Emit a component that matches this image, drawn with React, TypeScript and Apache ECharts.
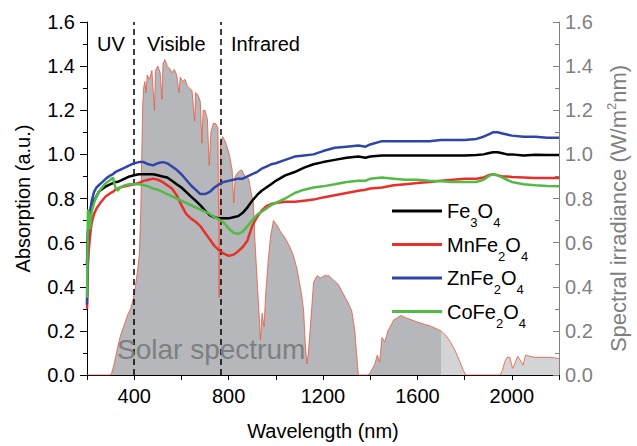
import React, { useEffect, useRef } from 'react';
import * as echarts from 'echarts';

const FONT = 'Liberation Sans, Arial, Helvetica, sans-serif';

// Absorption spectra (left axis)
const absWavelength = [200, 204, 208, 212, 216, 220, 230, 240, 250, 260, 280, 300, 310, 320, 330, 340, 360, 380, 400, 420, 440, 460, 480, 500, 520, 540, 560, 580, 600, 620, 640, 660, 680, 700, 720, 740, 760, 780, 800, 820, 840, 860, 880, 900, 920, 940, 960, 980, 1000, 1040, 1080, 1120, 1160, 1200, 1250, 1300, 1350, 1380, 1400, 1450, 1500, 1550, 1600, 1650, 1700, 1750, 1800, 1850, 1880, 1900, 1920, 1940, 1960, 1980, 2000, 2050, 2100, 2150, 2200];

const fe3o4 = [0.5, 0.65, 0.70, 0.72, 0.74, 0.76,
  0.79, 0.81, 0.83, 0.84,
  0.855, 0.865, 0.87, 0.875, 0.875, 0.88,
  0.89, 0.9, 0.905, 0.91, 0.91, 0.91, 0.91, 0.905,
  0.9, 0.895, 0.88, 0.865, 0.85, 0.83, 0.81, 0.79,
  0.77, 0.745, 0.725, 0.715, 0.71, 0.71, 0.71, 0.715,
  0.72, 0.735, 0.76, 0.79, 0.815, 0.835, 0.85, 0.865,
  0.88, 0.905, 0.92, 0.94, 0.955, 0.965,
  0.975, 0.985, 0.99, 0.985, 0.99,
  0.995, 0.995, 0.995, 0.995, 0.995, 0.995,
  0.995, 0.995, 0.997, 1.0, 1.005, 1.01,
  1.01, 1.005, 1.0, 1.0,
  0.995, 0.998, 0.997, 0.997];

const mnfe2o4 = [0.30, 0.5, 0.57, 0.62, 0.66, 0.69,
  0.73, 0.755, 0.77, 0.785,
  0.81, 0.825, 0.83, 0.84, 0.845, 0.85,
  0.855, 0.86, 0.865, 0.87, 0.88, 0.885, 0.89, 0.885,
  0.875, 0.86, 0.845, 0.815, 0.77, 0.73, 0.71, 0.695,
  0.675, 0.645, 0.615, 0.585, 0.565, 0.55, 0.54, 0.545,
  0.56, 0.58, 0.61, 0.675, 0.715, 0.745, 0.765, 0.775,
  0.78, 0.785, 0.785, 0.79, 0.795, 0.805,
  0.815, 0.825, 0.835, 0.84, 0.845,
  0.85, 0.86, 0.865, 0.87, 0.875, 0.88,
  0.885, 0.89, 0.89, 0.895, 0.905, 0.91,
  0.905, 0.9, 0.9, 0.897,
  0.895, 0.893, 0.893, 0.893];

const znfe2o4 = [0.32, 0.62, 0.72, 0.74, 0.76, 0.79,
  0.83, 0.85, 0.86, 0.87,
  0.89, 0.905, 0.91, 0.92, 0.925, 0.93,
  0.94, 0.95, 0.96, 0.965, 0.965, 0.955, 0.95, 0.96,
  0.965, 0.96, 0.945, 0.93, 0.91, 0.885, 0.86, 0.84,
  0.82, 0.82, 0.83, 0.85, 0.865, 0.875, 0.88, 0.885,
  0.89, 0.89, 0.9, 0.91, 0.92, 0.935, 0.945, 0.955,
  0.96, 0.975, 0.99, 0.995, 1.0, 1.015,
  1.03, 1.035, 1.04, 1.035, 1.045,
  1.06, 1.06, 1.06, 1.06, 1.06, 1.065,
  1.065, 1.065, 1.07, 1.08, 1.09, 1.10,
  1.10, 1.095, 1.09, 1.085,
  1.08, 1.08, 1.075, 1.075];

const cofe2o4 = [0.35, 0.75, 0.73, 0.66, 0.70, 0.74,
  0.78, 0.81, 0.83, 0.845,
  0.87, 0.885, 0.895, 0.85, 0.835, 0.85,
  0.86, 0.865, 0.865, 0.865, 0.86, 0.855, 0.845, 0.84,
  0.83, 0.82, 0.81, 0.80, 0.79, 0.78, 0.77, 0.76,
  0.75, 0.74, 0.73, 0.715, 0.705, 0.69, 0.665, 0.645,
  0.64, 0.65, 0.675, 0.70, 0.725, 0.74, 0.755, 0.77,
  0.78, 0.80, 0.825, 0.84, 0.85, 0.855,
  0.865, 0.875, 0.88, 0.88, 0.89,
  0.895, 0.89, 0.885, 0.885, 0.88, 0.878,
  0.875, 0.875, 0.875, 0.885, 0.9, 0.91,
  0.905, 0.895, 0.885, 0.875,
  0.865, 0.86, 0.857, 0.855];

// Solar spectrum (right axis)
const solarWavelength = [200, 300, 305, 315, 325, 335, 345, 355, 365, 375, 385, 395, 405, 415, 422, 428, 432, 436, 440, 445, 450, 455, 465, 475, 486, 490, 500, 510, 518, 522, 530, 540, 550, 560, 570, 580, 590, 595, 605, 615, 625, 635, 645, 656, 660, 670, 680, 687, 692, 700, 710, 718, 725, 735, 745, 755, 760, 765, 775, 785, 795, 805, 815, 822, 828, 840, 855, 870, 885, 895, 905, 912, 920, 928, 935, 942, 950, 958, 968, 978, 990, 1005, 1020, 1040, 1060, 1075, 1090, 1100, 1110, 1118, 1125, 1132, 1138, 1145, 1152, 1160, 1175, 1190, 1205, 1225, 1245, 1265, 1280, 1295, 1310, 1322, 1335, 1342, 1350, 1390, 1400, 1410, 1420, 1430, 1440, 1450, 1462, 1475, 1490, 1500, 1515, 1530, 1550, 1575, 1600, 1630, 1660, 1700, 1720, 1740, 1760, 1780, 1795, 1805, 1950, 1960, 1970, 1980, 1992, 2003, 2012, 2025, 2040, 2048, 2058, 2075, 2100, 2130, 2160, 2200];

const solarIrradiance = [0, 0, 0.01, 0.05, 0.1, 0.15, 0.19, 0.22, 0.25, 0.28, 0.3, 0.34, 0.4, 0.48, 0.55, 0.75, 1.0, 1.22, 1.3, 1.33, 1.28, 1.36, 1.34, 1.38, 1.2, 1.38, 1.40, 1.37, 1.25, 1.41, 1.43, 1.40, 1.39, 1.37, 1.385, 1.36, 1.28, 1.35, 1.33, 1.34, 1.31, 1.30, 1.29, 1.15, 1.28, 1.27, 1.24, 1.05, 1.2, 1.2, 1.16, 0.95, 1.1, 1.14, 1.14, 1.12, 0.35, 1.05, 1.08, 1.06, 1.03, 0.99, 0.93, 0.78, 0.9, 0.92, 0.93, 0.9, 0.89, 0.83, 0.78, 0.6, 0.45, 0.3, 0.16, 0.28, 0.22, 0.38, 0.52, 0.63, 0.70, 0.68, 0.65, 0.62, 0.58, 0.54, 0.48, 0.42, 0.36, 0.29, 0.14, 0.05, 0.1, 0.2, 0.3, 0.42, 0.45, 0.44, 0.45, 0.45, 0.43, 0.41, 0.38, 0.35, 0.32, 0.29, 0.2, 0.1, 0, 0, 0.01, 0.03, 0.05, 0.09, 0.06, 0.17, 0.15, 0.2, 0.23, 0.25, 0.26, 0.27, 0.26, 0.25, 0.24, 0.23, 0.22, 0.2, 0.18, 0.15, 0.11, 0.06, 0.02, 0, 0, 0.02, 0.06, 0.08, 0.08, 0.03, 0.05, 0.085, 0.06, 0.045, 0.09, 0.085, 0.08, 0.08, 0.08, 0.075];

const solarSplit = 1700;
const regionBoundaries = [400, 765];
const regionLabels = ['UV', 'Visible', 'Infrared'];

const seriesNames = ['Fe3O4', 'MnFe2O4', 'ZnFe2O4', 'CoFe2O4'];
const seriesColors = ['#000000', '#e8302b', '#3045a8', '#52bb45'];
const seriesValues = [fe3o4, mnfe2o4, znfe2o4, cofe2o4];
const legendLabels: Record<string, string> = {
  Fe3O4: '{n|Fe}{s|3}{n|O}{s|4}',
  MnFe2O4: '{n|MnFe}{s|2}{n|O}{s|4}',
  ZnFe2O4: '{n|ZnFe}{s|2}{n|O}{s|4}',
  CoFe2O4: '{n|CoFe}{s|2}{n|O}{s|4}',
};

export default function App() {
  const ref = useRef<HTMLDivElement>(null);
  useEffect(() => {
    document.body.style.margin = '0';
    const chart = echarts.init(ref.current!, null, { renderer: 'svg' });

    const solarPairs = solarWavelength.map((w, i) => [w, solarIrradiance[i]]);
    const solarDark = solarPairs.filter((p) => p[0] <= solarSplit);
    const solarLight = solarPairs.filter((p) => p[0] >= solarSplit);

    const absSeries = seriesNames.map((name, k) => ({
      name,
      type: 'line',
      xAxisIndex: 0,
      yAxisIndex: 0,
      data: absWavelength.map((w, i) => [w, seriesValues[k][i]]),
      symbol: 'none',
      showSymbol: false,
      color: seriesColors[k],
      lineStyle: { color: seriesColors[k], width: 2.5 },
      z: 5,
      silent: true,
    }));

    const option: any = {
      animation: false,
      textStyle: { fontFamily: FONT },
      grid: { left: 87, right: 70, top: 22, bottom: 69, containLabel: false },
      legend: {
        data: seriesNames,
        orient: 'vertical',
        left: 392,
        top: 201,
        padding: 0,
        itemWidth: 50,
        itemHeight: 3,
        itemGap: 5.5,
        icon: 'rect',
        selectedMode: false,
        formatter: (name: string) => legendLabels[name],
        textStyle: {
          fontFamily: FONT,
          color: '#000',
          rich: {
            n: { fontSize: 20, lineHeight: 36, color: '#000', fontFamily: FONT },
            s: { fontSize: 13, lineHeight: 13, verticalAlign: 'bottom', color: '#000', fontFamily: FONT },
          },
        },
      },
      xAxis: [
        {
          type: 'value',
          position: 'bottom',
          min: 200,
          max: 2200,
          interval: 200,
          splitLine: { show: false },
          axisLine: { show: true, lineStyle: { color: '#000', width: 1 } },
          axisTick: { show: true, length: 5, lineStyle: { color: '#000', width: 1 } },
          axisLabel: {
            formatter: (v: number) => (v % 400 === 0 ? String(v) : ''),
            fontSize: 20,
            color: '#000',
            margin: 11,
            fontFamily: FONT,
          },
          name: 'Wavelength (nm)',
          nameLocation: 'middle',
          nameGap: 46,
          nameTextStyle: { fontSize: 20, color: '#000', fontFamily: FONT },
        },
        {
          type: 'value',
          position: 'top',
          min: 200,
          max: 2200,
          interval: 200,
          splitLine: { show: false },
          axisLine: { show: true, lineStyle: { color: '#000', width: 1 } },
          axisTick: { show: false },
          axisLabel: { show: false },
        },
      ],
      yAxis: [
        {
          type: 'value',
          position: 'left',
          min: 0,
          max: 1.6,
          interval: 0.2,
          splitLine: { show: false },
          axisLine: { show: true, lineStyle: { color: '#000', width: 1 } },
          axisTick: { show: true, length: 7, lineStyle: { color: '#000', width: 1 } },
          minorTick: { show: true, splitNumber: 2, length: 4, lineStyle: { color: '#000', width: 1 } },
          axisLabel: {
            formatter: (v: number) => v.toFixed(1),
            fontSize: 20,
            color: '#000',
            margin: 12,
            fontFamily: FONT,
          },
          name: 'Absorption (a.u.)',
          nameLocation: 'middle',
          nameGap: 54,
          nameTextStyle: { fontSize: 20, color: '#000', fontFamily: FONT },
        },
        {
          type: 'value',
          position: 'right',
          min: 0,
          max: 1.6,
          interval: 0.2,
          splitLine: { show: false },
          axisLine: { show: true, lineStyle: { color: '#808080', width: 1 } },
          axisTick: { show: true, inside: true, length: 6, lineStyle: { color: '#808080', width: 1 } },
          minorTick: { show: true, splitNumber: 2, length: 4, lineStyle: { color: '#808080', width: 1 } },
          axisLabel: {
            formatter: (v: number) => v.toFixed(1),
            fontSize: 20,
            color: '#7f7f7f',
            margin: 6,
            fontFamily: FONT,
          },
          name: '{n|Spectral irradiance (W/m}{s|2}{n|nm)}',
          nameLocation: 'middle',
          nameGap: 46,
          nameTextStyle: {
            color: '#7f7f7f',
            fontFamily: FONT,
            padding: [0, 20, 0, 0],
            rich: {
              n: { fontSize: 22, lineHeight: 26, color: '#7f7f7f', fontFamily: FONT },
              s: { fontSize: 13, lineHeight: 13, verticalAlign: 'top', color: '#7f7f7f', fontFamily: FONT },
            },
          },
        },
      ],
      graphic: [
        { type: 'text', left: 97, top: 34, style: { text: regionLabels[0], fontSize: 20, fill: '#000', fontFamily: FONT } },
        { type: 'text', left: 147, top: 34, style: { text: regionLabels[1], fontSize: 20, fill: '#000', fontFamily: FONT } },
        { type: 'text', left: 231, top: 34, style: { text: regionLabels[2], fontSize: 20, fill: '#000', fontFamily: FONT } },
        { type: 'text', left: 117, top: 335, z: 10, style: { text: 'Solar spectrum', fontSize: 28, fill: '#7d7f82', fontFamily: FONT } },
      ],
      series: [
        {
          name: 'Solar spectrum',
          type: 'line',
          xAxisIndex: 0,
          yAxisIndex: 1,
          data: solarDark,
          symbol: 'none',
          showSymbol: false,
          lineStyle: { color: '#e9553f', width: 0.8 },
          areaStyle: { color: '#b5b7ba', opacity: 1 },
          z: 1,
          silent: true,
          markLine: {
            silent: true,
            symbol: 'none',
            label: { show: false },
            lineStyle: { type: [6, 4], color: '#000', width: 1.5 },
            data: regionBoundaries.map((b) => ({ xAxis: b })),
          },
        },
        {
          name: 'Solar spectrum (far IR)',
          type: 'line',
          xAxisIndex: 0,
          yAxisIndex: 1,
          data: solarLight,
          symbol: 'none',
          showSymbol: false,
          lineStyle: { color: '#e9553f', width: 0.8 },
          areaStyle: { color: '#d2d4d6', opacity: 1 },
          z: 1,
          silent: true,
        },
        ...absSeries,
      ],
    };

    chart.setOption(option);
    return () => chart.dispose();
  }, []);
  return <div ref={ref} style={{ width: 637, height: 446 }} />;
}
